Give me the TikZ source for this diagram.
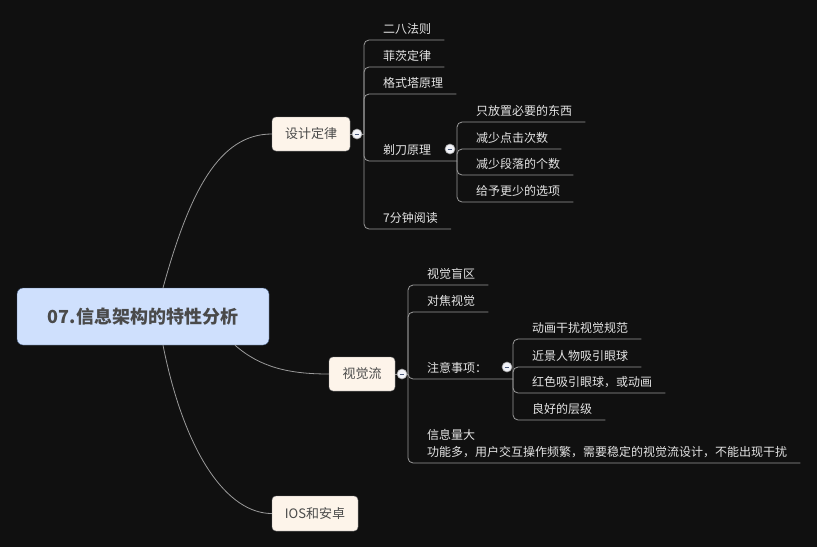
\documentclass[tikz,border=0pt]{standalone}
\usepackage{fontspec}
\setmainfont{Noto Sans CJK SC}
\definecolor{bg}{HTML}{101010}
\definecolor{rootfill}{HTML}{CFE0FD}
\definecolor{rootline}{HTML}{3F5578}
\definecolor{subfill}{HTML}{FDF4EA}
\definecolor{subline}{HTML}{8C8C8C}
\definecolor{darktext}{HTML}{4A4A4A}
\definecolor{lighttext}{HTML}{E4E4E4}
\definecolor{linegray}{HTML}{9A9A9A}
\definecolor{foldfill}{HTML}{F2F3F8}
\definecolor{foldmark}{HTML}{4A5A7A}
\tikzset{
  rootbox/.style={draw=rootline, fill=rootfill, rounded corners=6pt, minimum width=252pt, minimum height=57pt, text=darktext, font=\fontsize{18}{22}\selectfont\bfseries},
  topicbox/.style={draw=subline, fill=subfill, rounded corners=4pt, minimum height=34pt, text=darktext, font=\fontsize{13}{16}\selectfont},
  leaf/.style={anchor=south west, inner xsep=13pt, inner ysep=6pt, text height=9pt, text depth=0pt, text=lighttext, font=\fontsize{12}{17}\selectfont},
  branch/.style={draw=linegray, line width=0.8pt, rounded corners=5pt},
  curve/.style={draw=linegray, line width=0.8pt},
  fold/.style={circle, draw=linegray, line width=0.6pt, fill=foldfill, minimum size=10pt, inner sep=0pt,
    path picture={\draw[foldmark, line width=0.9pt] ([xshift=-2.3pt]path picture bounding box.center) -- ([xshift=2.3pt]path picture bounding box.center);}}
}
\begin{document}
\begin{tikzpicture}[x=1pt,y=-1pt]
\fill[bg] (0,0) rectangle (817,547);
\useasboundingbox (0,0) rectangle (817,547);

\node[rootbox] (root) at (143,316.5) {07.信息架构的特性分析};
\node[topicbox, minimum width=78pt] (design) at (311,134) {设计定律};
\node[topicbox, minimum width=66pt] (vision) at (362,374) {视觉流};
\node[topicbox, minimum width=86pt, minimum height=35pt] (ios) at (315,513.5) {IOS和安卓};

\draw[curve] ([xshift=20pt]root.north) .. controls +(27,-98) and +(-52,0) .. (design.west);
\draw[curve] ([xshift=92pt]root.south) .. controls +(25,22) and +(-40,0) .. (vision.west);
\draw[curve] ([xshift=20pt]root.south) .. controls +(22,110) and +(-44,0) .. (ios.west);

% design laws
\coordinate (dt) at (364,134);
\coordinate (rt) at (457,161);
\node[leaf] (d1) at (370,40) {二八法则};
\node[leaf] (d2) at (370,67) {菲茨定律};
\node[leaf] (d3) at (370,94) {格式塔原理};
\node[leaf] (d4) at (370,161) {剃刀原理};
\node[leaf] (d5) at (370,229) {7分钟阅读};
\node[leaf] (r1) at (463,122) {只放置必要的东西};
\node[leaf] (r2) at (463,149) {减少点击次数};
\node[leaf] (r3) at (463,175) {减少段落的个数};
\node[leaf] (r4) at (463,202) {给予更少的选项};
\draw[branch] (design.east) -- (dt);
\foreach \n in {d1,d2,d3,d5} \draw[branch] (dt) |- (\n.south east);
\draw[branch] (dt) |- (rt);
\foreach \n in {r1,r2,r3,r4} \draw[branch] (rt) |- (\n.south east);
\node[fold] (dfold) at (357,134) {};
\node[fold] (rfold) at (450,149) {};

% visual flow
\coordinate (vt) at (408,374);
\coordinate (nt) at (513,379);
\node[leaf] (v1) at (414,285) {视觉盲区};
\node[leaf] (v2) at (414,312) {对焦视觉};
\node[leaf] (v3) at (414,379) {注意事项：};
\node[leaf, align=left] (v4) at (414,463) {信息量大\\功能多，用户交互操作频繁，需要稳定的视觉流设计，不能出现干扰};
\node[leaf] (n1) at (519,339) {动画干扰视觉规范};
\node[leaf] (n2) at (519,367) {近景人物吸引眼球};
\node[leaf] (n3) at (519,393) {红色吸引眼球，或动画};
\node[leaf] (n4) at (519,420) {良好的层级};
\draw[branch] (vision.east) -- (vt);
\foreach \n in {v1,v2,v4} \draw[branch] (vt) |- (\n.south east);
\draw[branch] (vt) |- (nt);
\foreach \n in {n1,n2,n3,n4} \draw[branch] (nt) |- (\n.south east);
\node[fold] (vfold) at (402,374) {};
\node[fold] (nfold) at (507,367) {};
\end{tikzpicture}
\end{document}
